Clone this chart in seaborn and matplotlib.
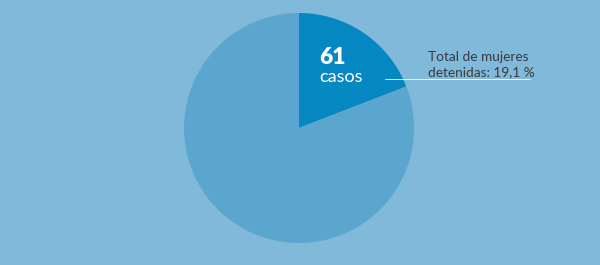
import matplotlib
matplotlib.use("Agg")
import matplotlib.pyplot as plt
import seaborn as sns

labels = ["Mujeres detenidas", "Resto"]
values = [61, 258]
colors = ["#0588c2", "#5ba6cf"]
bg = "#80b9d9"

sns.set_style("white")
plt.rcParams['font.family'] = ['Lato', 'DejaVu Sans']

fig = plt.figure(figsize=(6, 2.65), dpi=100, facecolor=bg)
ax = fig.add_axes([0, 0, 1, 1])
ax.set_facecolor(bg)

ax.pie(values, colors=colors, startangle=90, counterclock=False,
       center=(299, 137), radius=115, frame=True,
       wedgeprops=dict(linewidth=0))
ax.set_xlim(0, 600)
ax.set_ylim(0, 265)
ax.set_aspect('equal')
ax.axis('off')

ax.text(319, 207, "61", color="white", fontsize=16.5, fontweight="heavy", va="center", ha="left")
ax.text(319, 188, "casos", color="white", fontsize=13, va="center", ha="left")
ax.plot([385, 530], [186, 186], color="white", lw=0.7, alpha=0.8)
ax.text(428, 208, "Total de mujeres", color="#3a3a3a", fontsize=9.8, va="center", ha="left")
ax.text(428, 193, "detenidas: 19,1 %", color="#3a3a3a", fontsize=9.8, va="center", ha="left")

fig.savefig("out.png", dpi=100, facecolor=bg)
